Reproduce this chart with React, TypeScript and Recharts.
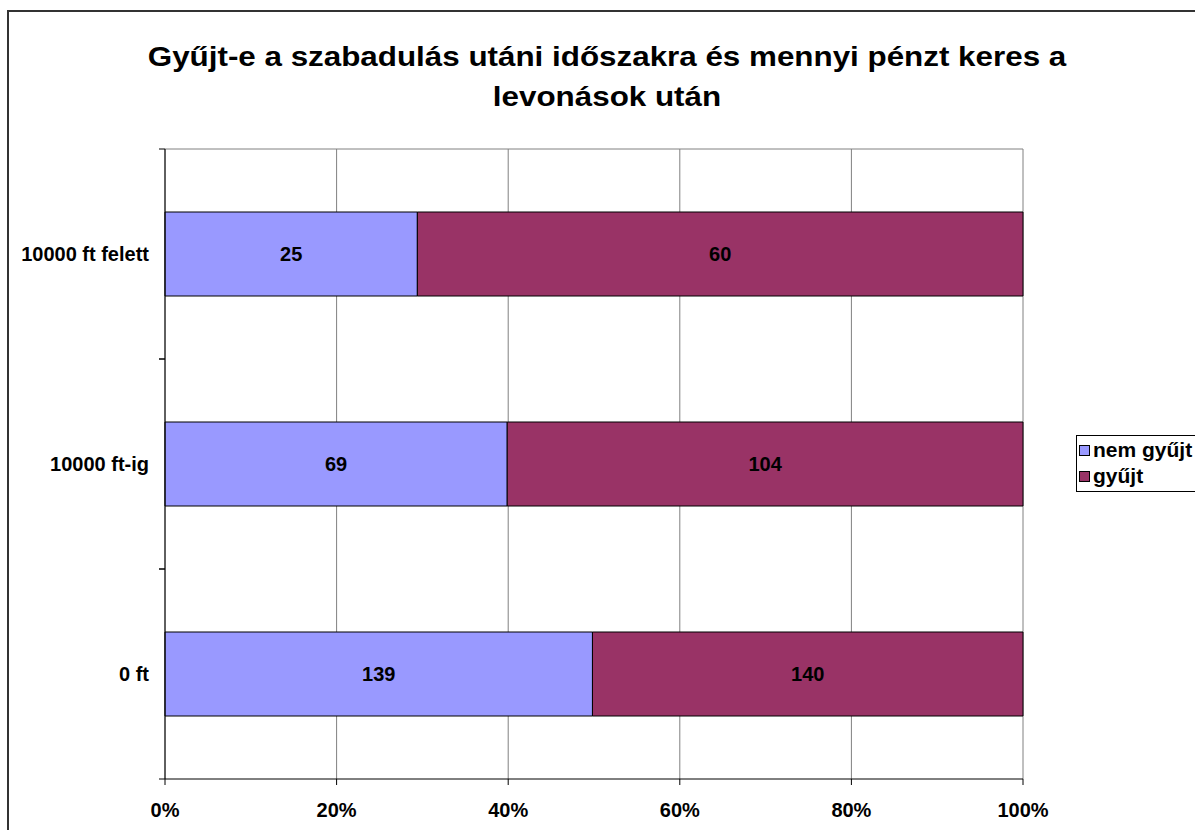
import { BarChart, Bar, XAxis, YAxis, CartesianGrid, LabelList } from 'recharts';

const categories = ['10000 ft felett', '10000 ft-ig', '0 ft'];
const nemGyujt = [25, 69, 139];
const gyujt = [60, 104, 140];
const xTicks = [0, 0.2, 0.4, 0.6, 0.8, 1];

const seriesNames = { nem: 'nem gyűjt', gyujt: 'gyűjt' };
const colors = { nem: '#9999FF', gyujt: '#993366' };

const W = 1195;
const H = 830;
const PLOT_LEFT = 165;
const PLOT_TOP = 149;
const PLOT_RIGHT = 1023;
const PLOT_BOTTOM = 779;
const FONT = '"Liberation Sans", Arial, sans-serif';

const data = categories.map((name, i) => ({ name, nem: nemGyujt[i], gyujt: gyujt[i] }));

const band = (PLOT_BOTTOM - PLOT_TOP) / categories.length;

function YTick({ y, payload }: any) {
  return (
    <g>
      <text
        x={PLOT_LEFT - 16}
        y={y}
        textAnchor="end"
        dominantBaseline="central"
        fontFamily={FONT}
        fontWeight="bold"
        fontSize={20}
        fill="#000"
      >
        {payload.value}
      </text>
      <line x1={PLOT_LEFT - 6} x2={PLOT_LEFT} y1={y - band / 2} y2={y - band / 2} stroke="#000" />
      <line x1={PLOT_LEFT - 6} x2={PLOT_LEFT} y1={y + band / 2} y2={y + band / 2} stroke="#000" />
    </g>
  );
}

function XTick({ x, payload }: any) {
  return (
    <text
      x={x}
      y={810}
      textAnchor="middle"
      dominantBaseline="central"
      fontFamily={FONT}
      fontWeight="bold"
      fontSize={20}
      fill="#000"
    >
      {`${Math.round(payload.value * 100)}%`}
    </text>
  );
}

function LegendBox() {
  const keys: ('nem' | 'gyujt')[] = ['nem', 'gyujt'];
  return (
    <div
      style={{
        position: 'absolute',
        left: 1076,
        top: 435,
        height: 57,
        boxSizing: 'border-box',
        border: '1px solid #000',
        background: '#fff',
        padding: '1px 40px 0 2px',
        fontFamily: FONT,
        fontWeight: 'bold',
        fontSize: 21,
        lineHeight: '26px',
        whiteSpace: 'nowrap',
      }}
    >
      {keys.map((k) => (
        <div key={k} style={{ display: 'flex', alignItems: 'center' }}>
          <span
            style={{
              display: 'inline-block',
              width: 9,
              height: 9,
              background: colors[k],
              border: '1px solid #000',
              marginRight: 3,
            }}
          />
          <span>{seriesNames[k]}</span>
        </div>
      ))}
    </div>
  );
}

export default function App() {
  return (
    <div
      style={{
        position: 'fixed',
        left: 0,
        top: 0,
        width: W,
        height: H,
        overflow: 'hidden',
        background: '#fff',
      }}
    >
      <div
        style={{
          position: 'absolute',
          left: 7,
          top: 10,
          width: 1300,
          height: 1000,
          border: '2px solid #333',
          boxSizing: 'border-box',
        }}
      />
      <div
        style={{
          position: 'absolute',
          left: 0,
          width: 1214,
          top: 37,
          textAlign: 'center',
          fontFamily: FONT,
          fontWeight: 'bold',
          fontSize: 28,
          lineHeight: '40px',
          transform: 'scaleX(1.12)',
          transformOrigin: '607px 0',
        }}
      >
        Gyűjt-e a szabadulás utáni időszakra és mennyi pénzt keres a
        <br />
        levonások után
      </div>
      <div style={{ position: 'absolute', left: 0, top: 0 }}>
        <BarChart
          width={W}
          height={H}
          data={data}
          layout="vertical"
          stackOffset="expand"
          barCategoryGap="30%"
          margin={{ top: PLOT_TOP, right: W - PLOT_RIGHT, bottom: 0, left: 0 }}
        >
          <CartesianGrid
            stroke="#808080"
            horizontalCoordinatesGenerator={({ offset }: any) => [offset.top]}
          />
          <XAxis
            type="number"
            domain={[0, 1]}
            ticks={xTicks}
            height={H - PLOT_BOTTOM}
            axisLine={{ stroke: '#000' }}
            tickLine={{ stroke: '#000' }}
            tickSize={6}
            tick={<XTick />}
            interval={0}
          />
          <YAxis
            type="category"
            dataKey="name"
            width={PLOT_LEFT}
            axisLine={{ stroke: '#000' }}
            tickLine={false}
            tick={<YTick />}
            interval={0}
          />
          <Bar dataKey="nem" stackId="a" fill={colors.nem} stroke="#000" strokeWidth={1} isAnimationActive={false}>
            <LabelList
              dataKey="nem"
              position="center"
              fill="#000"
              fontFamily={FONT}
              fontWeight="bold"
              fontSize={20}
            />
          </Bar>
          <Bar dataKey="gyujt" stackId="a" fill={colors.gyujt} stroke="#000" strokeWidth={1} isAnimationActive={false}>
            <LabelList
              dataKey="gyujt"
              position="center"
              fill="#000"
              fontFamily={FONT}
              fontWeight="bold"
              fontSize={20}
            />
          </Bar>
        </BarChart>
      </div>
      <LegendBox />
    </div>
  );
}
